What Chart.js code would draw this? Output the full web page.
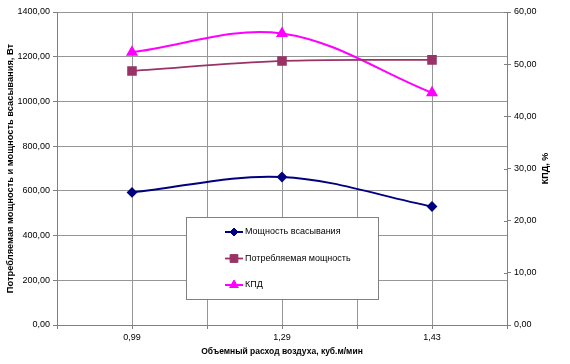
<!DOCTYPE html>
<html>
<head>
<meta charset="utf-8">
<script src="https://cdn.jsdelivr.net/npm/chart.js@4/dist/chart.umd.min.js"></script>
<style>
    body { margin: 0; background: #fff; }
    #wrap { width: 570px; height: 364px; }
</style>
</head>
<body>
<div id="wrap"><canvas id="chart" width="570" height="364"></canvas></div>
<script>
// Chart data
const xLabels = ['0,99', '1,29', '1,43'];
const suctionPower = [593, 662, 530];
const consumedPower = [1136, 1181, 1186];
const efficiency = [52.3, 55.9, 44.5];

const seriesNames = ['Мощность всасывания', 'Потребляемая мощность', 'КПД'];
const xTitle = 'Объемный расход воздуха, куб.м/мин';
const leftTitle = 'Потребляемая мощность и мощность всасывания, Вт';
const rightTitle = 'КПД, %';

Chart.defaults.font.family = '"Liberation Sans", Arial, sans-serif';
Chart.defaults.font.size = 9;
Chart.defaults.color = '#000';

const GRID = '#969696';
const AXIS = '#808080';

// Turn a list of values into {x, y} points placed on category indexes
function toPoints(values) {
    return values.map((v, i) => ({ x: i, y: v }));
}

function fmt(v) {
    return Number(v).toFixed(2).replace('.', ',');
}

// Legend box inside the plot + right axis title (reads bottom-to-top)
const extrasPlugin = {
    id: 'extras',
    afterDraw(chart) {
        const ctx = chart.ctx;
        const area = chart.chartArea;
        const right = chart.scales.y2;

        // inner half of the right axis tick marks (Excel "cross" ticks)
        ctx.save();
        ctx.strokeStyle = AXIS;
        ctx.lineWidth = 1;
        right.ticks.forEach((t, i) => {
            const y = Math.round(right.getPixelForTick(i)) + 0.5;
            ctx.beginPath();
            ctx.moveTo(right.left - 3, y);
            ctx.lineTo(right.left, y);
            ctx.stroke();
        });
        ctx.restore();

        // right axis title
        ctx.save();
        ctx.font = 'bold 9px "Liberation Sans", Arial, sans-serif';
        ctx.fillStyle = '#000';
        ctx.textAlign = 'center';
        ctx.textBaseline = 'middle';
        ctx.translate(right.right - 24.5, (area.top + area.bottom) / 2);
        ctx.rotate(-Math.PI / 2);
        ctx.fillText(rightTitle, 0, 0);
        ctx.restore();

        // legend
        const bx = area.left + 129, by = area.top + 205, bw = 192, bh = 82;
        ctx.save();
        ctx.fillStyle = '#fff';
        ctx.fillRect(bx, by, bw, bh);
        ctx.strokeStyle = AXIS;
        ctx.lineWidth = 1;
        ctx.strokeRect(bx + 0.5, by + 0.5, bw, bh);

        chart.data.datasets.forEach((ds, i) => {
            const y = by + 15 + i * 26.5;
            const x0 = bx + 39, x1 = bx + 57;
            ctx.strokeStyle = ds.borderColor;
            ctx.lineWidth = ds.borderWidth;
            ctx.beginPath();
            ctx.moveTo(x0, y);
            ctx.lineTo(x1, y);
            ctx.stroke();

            ctx.fillStyle = ds.pointBackgroundColor;
            ctx.strokeStyle = ds.pointBorderColor;
            ctx.lineWidth = 1;
            Chart.helpers.drawPoint(ctx, {
                pointStyle: ds.pointStyle,
                radius: ds.pointRadius,
                rotation: 0,
                borderWidth: 1
            }, (x0 + x1) / 2, y);

            ctx.fillStyle = '#000';
            ctx.font = '9px "Liberation Sans", Arial, sans-serif';
            ctx.textAlign = 'left';
            ctx.textBaseline = 'middle';
            ctx.fillText(ds.label, x1 + 2, y);
        });
        ctx.restore();
    }
};

const whiteBg = {
    id: 'whiteBg',
    beforeDraw(chart) {
        const ctx = chart.ctx;
        ctx.save();
        ctx.fillStyle = '#fff';
        ctx.fillRect(0, 0, chart.width, chart.height);
        ctx.restore();
    }
};

new Chart(document.getElementById('chart'), {
    type: 'line',
    data: {
        datasets: [
            {
                label: seriesNames[0],
                data: toPoints(suctionPower),
                yAxisID: 'y',
                borderColor: '#000080',
                pointBackgroundColor: '#000080',
                pointBorderColor: '#000080',
                borderWidth: 2,
                pointStyle: 'rectRot',
                pointRadius: 4,
                tension: 0.35
            },
            {
                label: seriesNames[1],
                data: toPoints(consumedPower),
                yAxisID: 'y',
                borderColor: '#993366',
                pointBackgroundColor: '#993366',
                pointBorderColor: '#993366',
                borderWidth: 1.8,
                pointStyle: 'rect',
                pointRadius: 5.5,
                tension: 0.35
            },
            {
                label: seriesNames[2],
                data: toPoints(efficiency),
                yAxisID: 'y2',
                borderColor: '#ff00ff',
                pointBackgroundColor: '#ff00ff',
                pointBorderColor: '#ff00ff',
                borderWidth: 2,
                pointStyle: 'triangle',
                pointRadius: 5,
                tension: 0.35
            }
        ]
    },
    options: {
        responsive: false,
        animation: false,
        layout: { padding: { top: 12, left: 0, right: 0, bottom: 0 } },
        plugins: {
            legend: { display: false },
            tooltip: { enabled: false }
        },
        scales: {
            x: {
                type: 'linear',
                min: -0.5,
                max: 2.5,
                afterFit(scale) { scale.height = 39; },
                grid: { color: GRID, tickLength: 4, tickColor: AXIS },
                border: { color: AXIS },
                ticks: {
                    stepSize: 0.5,
                    autoSkip: false,
                    maxRotation: 0,
                    padding: 3,
                    callback: (v) => Number.isInteger(v) ? xLabels[v] : ''
                },
                title: {
                    display: true,
                    text: xTitle,
                    font: { weight: 'bold', size: 8.5 },
                    padding: { top: 0, bottom: 7 }
                }
            },
            y: {
                position: 'left',
                min: 0,
                max: 1400,
                afterFit(scale) { scale.width = 57; },
                grid: { color: GRID, tickLength: 4, tickColor: AXIS },
                border: { color: AXIS },
                ticks: { stepSize: 200, padding: 3, callback: fmt },
                title: {
                    display: true,
                    text: leftTitle,
                    font: { weight: 'bold', size: 9.3 },
                    padding: { top: 5, bottom: 0 }
                }
            },
            y2: {
                position: 'right',
                min: 0,
                max: 60,
                afterFit(scale) { scale.width = 63; },
                grid: { drawOnChartArea: false, tickLength: 4, tickColor: AXIS },
                border: { color: AXIS },
                ticks: { stepSize: 10, padding: 3, callback: fmt }
            }
        }
    },
    plugins: [whiteBg, extrasPlugin]
});
</script>
</body>
</html>
